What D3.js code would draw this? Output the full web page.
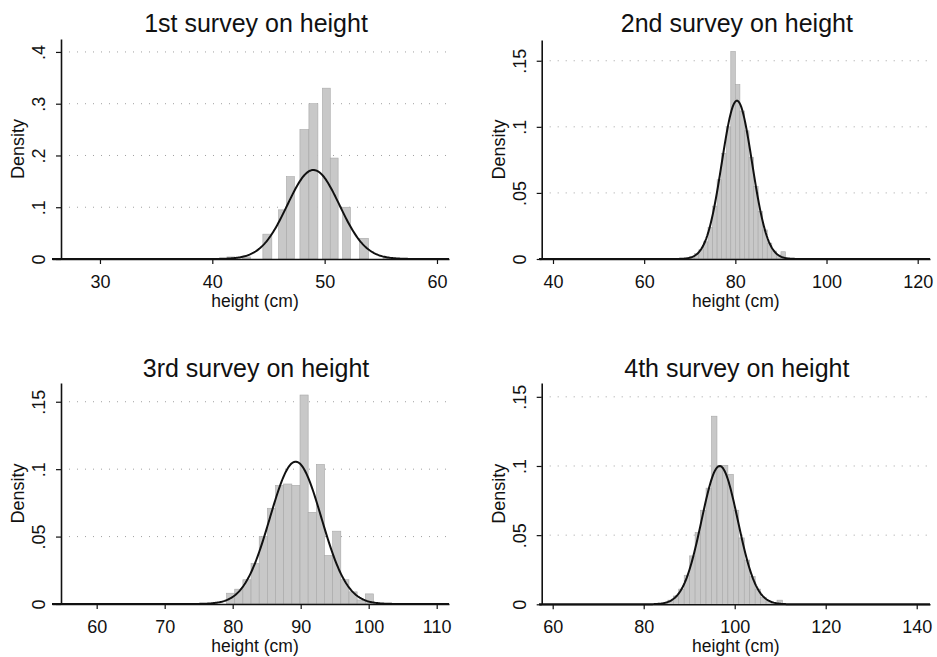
<!DOCTYPE html>
<html>
<head>
<meta charset="utf-8">
<script src="https://cdn.jsdelivr.net/npm/d3@7"></script>
<style>
  html, body { margin: 0; padding: 0; background: #ffffff; }
  svg { display: block; }
  text { font-family: "Liberation Sans", Arial, sans-serif; fill: #111; }
</style>
</head>
<body>
<svg id="chart" width="937" height="657"></svg>
<script>
// ---------------- DATA ----------------
const titles = ["1st survey on height", "2nd survey on height", "3rd survey on height", "4th survey on height"];
const xLabel = "height (cm)";
const yLabel = "Density";

const xTicks1 = [30, 40, 50, 60];
const xTicks2 = [40, 60, 80, 100, 120];
const xTicks3 = [60, 70, 80, 90, 100, 110];
const xTicks4 = [60, 80, 100, 120, 140];

const yTicks1 = [0, 0.1, 0.2, 0.3, 0.4];
const yTickLabels1 = ["0", ".1", ".2", ".3", ".4"];
const yTicks234 = [0, 0.05, 0.1, 0.15];
const yTickLabels234 = ["0", ".05", ".1", ".15"];

// axis extents (data units)
const xDomain1 = [25.73, 61.07];
const xDomain2 = [36.93, 122.7];
const xDomain3 = [53.43, 111.81];
const xDomain4 = [56.99, 142.92];
const yMax1 = 0.425, yMax2 = 0.1657, yMax3 = 0.1639, yMax4 = 0.16;

// histogram bins: [from, to, density]
const bins1 = [
  [41.3, 42.0, 0.004], [42.7, 43.4, 0.004], [44.5, 45.3, 0.048],
  [45.9, 46.6, 0.095], [46.6, 47.3, 0.159], [47.8, 48.6, 0.25],
  [48.6, 49.4, 0.30], [49.8, 50.5, 0.33], [50.5, 51.2, 0.195],
  [51.6, 52.3, 0.10], [53.1, 53.9, 0.04], [55.2, 55.9, 0.003]
];
const bins2 = [
  [70, 71, 0.002], [71, 72, 0.004], [72, 73, 0.007], [73, 74, 0.013],
  [74, 75, 0.024], [75, 76, 0.040], [76, 77, 0.060], [77, 78, 0.080],
  [78, 79, 0.100], [79, 80, 0.157], [80, 81, 0.132], [81, 82, 0.112],
  [82, 83, 0.097], [83, 84, 0.077], [84, 85, 0.055], [85, 86, 0.036],
  [86, 87, 0.022], [87, 88, 0.012], [88, 89, 0.006], [89, 90, 0.003],
  [90, 91, 0.0055]
];
const bins3 = [
  [79.1, 80.3, 0.008], [80.3, 81.5, 0.011], [81.5, 82.7, 0.018],
  [82.7, 83.9, 0.030], [83.9, 85.1, 0.050], [85.1, 86.3, 0.071],
  [86.3, 87.5, 0.088], [87.5, 88.7, 0.089], [88.7, 89.9, 0.088],
  [89.9, 91.1, 0.155], [91.1, 92.3, 0.068], [92.3, 93.5, 0.1035],
  [93.5, 94.7, 0.036], [94.7, 95.9, 0.054], [95.9, 97.1, 0.018],
  [97.1, 98.3, 0.009], [98.3, 99.5, 0.003], [99.5, 100.7, 0.0075]
];
const bins4 = [
  [84.1, 85.3, 0.001], [85.3, 86.5, 0.003], [86.5, 87.7, 0.006],
  [87.7, 88.9, 0.011], [88.9, 90.1, 0.021], [90.1, 91.3, 0.035],
  [91.3, 92.5, 0.052], [92.5, 93.7, 0.068], [93.7, 94.9, 0.084],
  [94.9, 96.1, 0.136], [96.1, 97.3, 0.1005], [97.3, 98.5, 0.1005],
  [98.5, 99.7, 0.094], [99.7, 100.9, 0.068], [100.9, 102.1, 0.048],
  [102.1, 103.3, 0.032], [103.3, 104.5, 0.020], [104.5, 105.7, 0.011],
  [105.7, 106.9, 0.005], [106.9, 108.1, 0.0025], [108.1, 109.3, 0.001],
  [109.3, 110.5, 0.003]
];

// fitted normal overlay: [mean, sd]
const normal1 = [49.0, 2.32];
const normal2 = [80.35, 3.33];
const normal3 = [89.26, 3.78];
const normal4 = [96.7, 3.99];

// ---------------- LAYOUT ----------------
const panels = [
  { title: titles[0], xTicks: xTicks1, yTicks: yTicks1, yLabels: yTickLabels1, xDomain: xDomain1, yMax: yMax1, bins: bins1, normal: normal1,
    xa: 52, xb: 449, yAxisX: 61, yBase: 259, yTop: 39 },
  { title: titles[1], xTicks: xTicks2, yTicks: yTicks234, yLabels: yTickLabels234, xDomain: xDomain2, yMax: yMax2, bins: bins2, normal: normal2,
    xa: 539, xb: 930, yAxisX: 541.7, yBase: 259, yTop: 40 },
  { title: titles[2], xTicks: xTicks3, yTicks: yTicks234, yLabels: yTickLabels234, xDomain: xDomain3, yMax: yMax3, bins: bins3, normal: normal3,
    xa: 52, xb: 449, yAxisX: 61, yBase: 604, yTop: 383 },
  { title: titles[3], xTicks: xTicks4, yTicks: yTicks234, yLabels: yTickLabels234, xDomain: xDomain4, yMax: yMax4, bins: bins4, normal: normal4,
    xa: 539, xb: 930, yAxisX: 541.7, yBase: 604.3, yTop: 383 }
];

const svg = d3.select("#chart");
svg.append("rect").attr("width", 937).attr("height", 657).attr("fill", "#ffffff");

panels.forEach(p => {
  const g = svg.append("g");
  const x = d3.scaleLinear().domain(p.xDomain).range([p.xa, p.xb]);
  const y = d3.scaleLinear().domain([0, p.yMax]).range([p.yBase, p.yTop]);

  // gridlines
  g.selectAll("line.grid").data(p.yTicks.filter(t => t > 0)).join("line")
    .attr("x1", p.yAxisX).attr("x2", p.xb)
    .attr("y1", d => y(d)).attr("y2", d => y(d))
    .attr("stroke", "#a0a0a0").attr("stroke-width", 1)
    .attr("stroke-dasharray", "1,7");

  // bars
  g.selectAll("rect.bar").data(p.bins).join("rect")
    .attr("x", d => x(d[0]))
    .attr("width", d => x(d[1]) - x(d[0]))
    .attr("y", d => y(d[2]))
    .attr("height", d => y(0) - y(d[2]))
    .attr("fill", "#c8c8c8")
    .attr("stroke", "#a8a8a8")
    .attr("stroke-width", 0.6);

  // normal curve
  const [mu, sd] = p.normal;
  const xs = d3.range(p.xDomain[0], p.xDomain[1], (p.xDomain[1] - p.xDomain[0]) / 400).concat([p.xDomain[1]]);
  const pts = xs.map(v => [v, Math.exp(-0.5 * ((v - mu) / sd) ** 2) / (sd * Math.sqrt(2 * Math.PI))]);
  g.append("path").datum(pts)
    .attr("d", d3.line().x(d => x(d[0])).y(d => y(d[1])))
    .attr("fill", "none").attr("stroke", "#111").attr("stroke-width", 2);

  // x axis
  const xAxis = d3.axisBottom(x).tickValues(p.xTicks).tickSize(5).tickSizeOuter(0).tickFormat(d3.format("d"));
  const xa = g.append("g").attr("transform", `translate(0,${p.yBase})`).call(xAxis);
  xa.select(".domain").attr("stroke", "#111").attr("stroke-width", 1.6);
  xa.selectAll(".tick line").attr("stroke", "#111").attr("stroke-width", 1.2);
  xa.selectAll(".tick text").attr("font-size", 18).attr("font-family", '"Liberation Sans", Arial, sans-serif').attr("fill", "#111")
    .attr("dy", null).attr("y", 28.5);

  // y axis
  const yAxis = d3.axisLeft(y).tickValues(p.yTicks).tickSize(5).tickSizeOuter(0).tickFormat((d, i) => p.yLabels[i]);
  const ya = g.append("g").attr("transform", `translate(${p.yAxisX},0)`).call(yAxis);
  ya.select(".domain").attr("stroke", "#111").attr("stroke-width", 1.6);
  ya.selectAll(".tick line").attr("stroke", "#111").attr("stroke-width", 1.2);
  ya.selectAll(".tick text")
    .attr("font-size", 18).attr("font-family", '"Liberation Sans", Arial, sans-serif').attr("fill", "#111")
    .attr("x", null).attr("dy", null)
    .attr("text-anchor", "middle")
    .attr("transform", "translate(-16,0) rotate(-90)");

  // y label
  g.append("text")
    .attr("transform", `translate(${p.yAxisX - 37},${(p.yBase + p.yTop) / 2}) rotate(-90)`)
    .attr("text-anchor", "middle").attr("font-size", 18).text(yLabel);

  // x label
  g.append("text")
    .attr("x", (p.yAxisX + p.xb) / 2).attr("y", p.yBase + 47.5)
    .attr("text-anchor", "middle").attr("font-size", 17.5).text(xLabel);

  // title
  g.append("text")
    .attr("x", (p.yAxisX + p.xb) / 2 + 1).attr("y", p.yBase - 227.5)
    .attr("text-anchor", "middle").attr("font-size", 25).text(p.title);
});
</script>
</body>
</html>
